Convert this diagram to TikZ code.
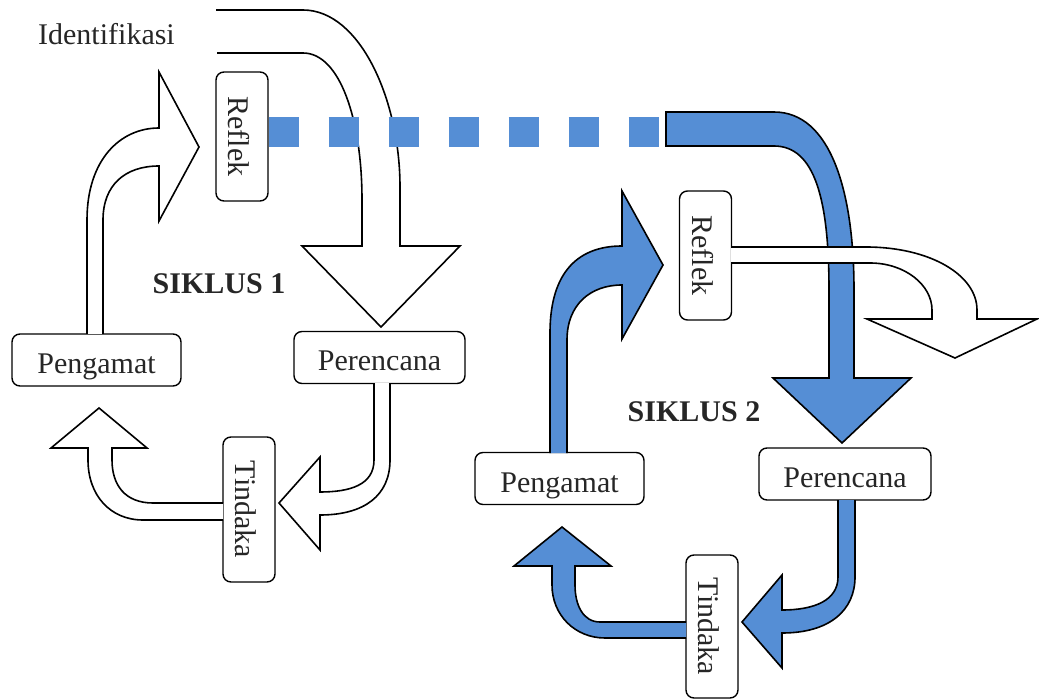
\documentclass[tikz,border=0pt]{standalone}
\usepackage{fontspec}
\setmainfont{Liberation Serif}
\usepackage{tikz}
\definecolor{siklusblue}{RGB}{85,142,213}

\begin{document}
\begin{tikzpicture}[x=0.5pt, y=-0.5pt, font=\fontsize{15}{18}\selectfont, text=black!85,
		box/.style={draw, rounded corners=4pt, fill=white, line width=0.7pt, inner sep=0pt, minimum height=26pt, text height=13.5pt, text depth=0pt},
		whitearrow/.style={draw, fill=white, line width=0.8pt, line join=miter},
		bluearrow/.style={draw, fill=siklusblue, line width=0.8pt, line join=miter},
		dashline/.style={draw=siklusblue, line width=15pt, dash pattern=on 15pt off 15pt}]
				\useasboundingbox (0, 0) rectangle (1039, 700);
				% siklus 1
				\node[box, rotate=-90, minimum width=64.5pt] (RA)at(242, 136.5) {Reflek};
				\node[box, minimum width=84.5pt] (PA)at(96.5, 360) {Pengamat};
				\node[box, minimum width=85.5pt] (PcA)at(379.5, 357.5) {Perencana};
				\node[box, rotate=-90, minimum width=72.5pt] (TA)at(249, 509.5) {Tindaka};
				\node[anchor=base] (ID)at(106.5, 45) {Identifikasi};
				\node[anchor=base, font=\fontsize{15}{18}\selectfont\bfseries] (SA)at(219, 293) {SIKLUS 1};
				% siklus 2
				\node[box, rotate=-90, minimum width=64.5pt] (RB)at(705.5, 255.5) {Reflek};
				\node[box, minimum width=84.5pt] (PB)at(559.5, 478.5) {Pengamat};
				\node[box, minimum width=86pt] (PcB)at(845, 474) {Perencana};
				\node[box, rotate=-90, minimum width=71.5pt] (TB)at(712, 626.5) {Tindaka};
				\node[anchor=base, font=\fontsize{15}{18}\selectfont\bfseries] (SB)at(694, 422) {SIKLUS 2};
				% panah siklus 1
				\path[whitearrow] (216, 10) -- (303, 10) .. controls (360, 10) and (400, 100) .. (400, 187) -- (400, 246) -- (460, 246) -- (381, 327) -- (302, 246) -- (362, 246) -- (362, 200) .. controls (362, 120) and (340, 53) .. (303, 53) -- (217, 53);
				\draw[dashline] ([yshift=2.25pt]RA.north) -- (660, 132);
				\path[whitearrow] (87, 334) -- (87, 220) .. controls (87, 160) and (120, 128) .. (159, 128) -- (159, 72) -- (199, 147) -- (159, 221) -- (159, 166) .. controls (125, 166) and (103, 185) .. (103, 220) -- (103, 334);
				\path[whitearrow] (374, 383) -- (374, 460) .. controls (374, 485) and (350, 492) .. (320, 492) -- (320, 457) -- (279, 503) -- (320, 550) -- (320, 515) .. controls (365, 515) and (390, 495) .. (390, 460) -- (390, 383);
				\path[whitearrow] (223, 503) -- (153, 503) .. controls (125, 503) and (112, 485) .. (112, 460) -- (112, 448) -- (147, 448) -- (99, 408) -- (51, 448) -- (88, 448) -- (88, 460) .. controls (88, 495) and (110, 520) .. (143, 520) -- (223, 520);
				% panah siklus 2
				\path[bluearrow] (666, 112) -- (774, 112) .. controls (830, 112) and (854, 190) .. (854, 290) -- (854, 378) -- (911, 378) -- (842, 443) -- (773, 378) -- (829, 378) -- (829, 290) .. controls (829, 200) and (815, 146) .. (774, 146) -- (666, 146) -- cycle;
				\path[bluearrow] (550, 453) -- (550, 333) .. controls (550, 270) and (580, 246) .. (622, 246) -- (622, 191) -- (663, 265) -- (622, 339) -- (622, 285) .. controls (590, 285) and (567, 305) .. (567, 340) -- (567, 453);
				\path[bluearrow] (838, 500) -- (838, 577) .. controls (838, 600) and (815, 610) .. (782, 610) -- (782, 575) -- (742, 622) -- (782, 668) -- (782, 633) .. controls (830, 633) and (855, 610) .. (855, 577) -- (855, 500);
				\path[bluearrow] (686, 622) -- (600, 622) .. controls (583, 622) and (575, 605) .. (575, 585) -- (575, 566) -- (611, 566) -- (562, 527) -- (514, 566) -- (552, 566) -- (552, 585) .. controls (552, 615) and (575, 638) .. (605, 638) -- (686, 638);
				\path[whitearrow] (731, 247) -- (866, 247) .. controls (930, 247) and (977, 275) .. (977, 310) -- (977, 319) -- (1037, 319) -- (955, 358) -- (867, 319) -- (932, 319) -- (932, 310) .. controls (932, 285) and (905, 263) .. (870, 263) -- (731, 263);
			\end{tikzpicture}
\end{document}
